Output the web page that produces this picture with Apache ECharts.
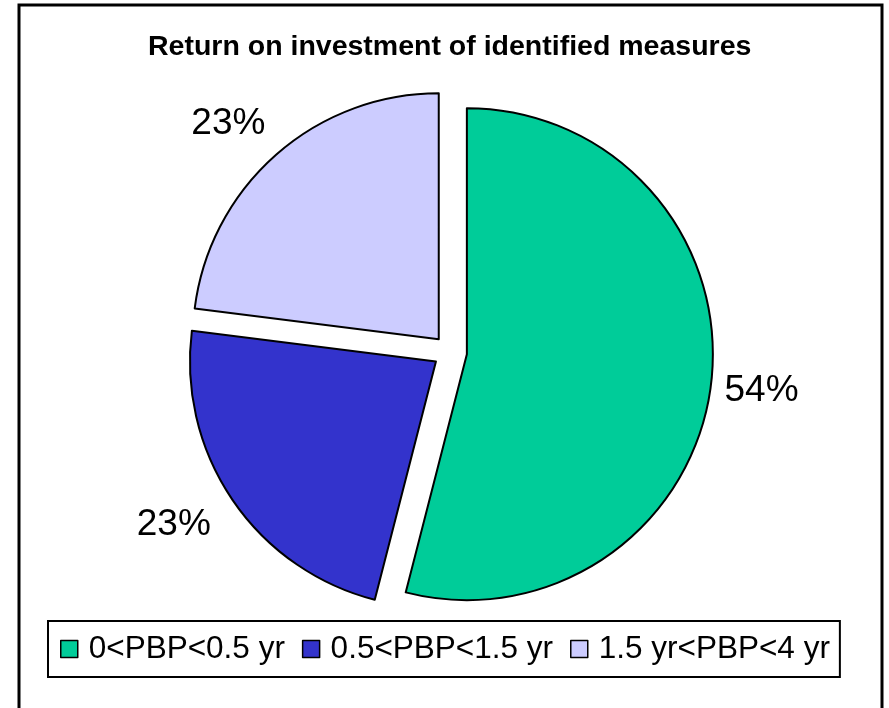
<!DOCTYPE html>
<html>
<head>
<meta charset="utf-8">
<script src="https://cdn.jsdelivr.net/npm/echarts@6/dist/echarts.min.js"></script>
<style type="text/css">
html,body{margin:0;padding:0;background:#fff;}
#roi{width:889px;height:708px;}
</style>
</head>
<body>
<div id="roi"></div>
<script type="text/javascript">
// payback period classes and share of measures (%)
var categories = ['0<PBP<0.5 yr', '0.5<PBP<1.5 yr', '1.5 yr<PBP<4 yr'];
var shares = [54, 23, 23];
var colors = ['#00CC99', '#3333CC', '#CCCCFF'];

// small nudges so the % labels sit where Excel put them
var labelShift = [[-8, -1], [-9, -5], [-7, 10]];

var roi = echarts.init(document.getElementById('roi'));
var roiOption = {
    backgroundColor: '#fff',
    animation: false,
    title: {
        text: 'Return on investment of identified measures',
        left: 148,
        top: 33,
        padding: 0,
        textStyle: {
            fontFamily: 'Liberation Sans, Arial',
            fontSize: 28.5,
            fontWeight: 'bold',
            color: '#000'
        }
    },
    legend: {
        left: 48,
        top: 621,
        orient: 'horizontal',
        icon: 'rect',
        itemWidth: 17,
        itemHeight: 17,
        itemGap: 17,
        padding: [12, 10, 12, 12],
        borderColor: '#000',
        borderWidth: 2,
        selectedMode: false,
        itemStyle: {borderColor: '#000', borderWidth: 1.5},
        textStyle: {
            fontFamily: 'Liberation Sans, Arial',
            fontSize: 31.5,
            color: '#000',
            padding: [0, 0, 0, 6]
        },
        data: categories
    },
    graphic: [{
        type: 'rect',
        shape: {x: 19, y: 5, width: 863, height: 710},
        style: {fill: 'none', stroke: '#000', lineWidth: 3},
        silent: true
    }],
    series: [{
        type: 'pie',
        center: [450, 352],
        radius: 246,
        startAngle: 90,
        clockwise: true,
        selectedMode: 'multiple',
        selectedOffset: 17,
        avoidLabelOverlap: false,
        percentPrecision: 0,
        emphasis: {disabled: true},
        itemStyle: {borderColor: '#000', borderWidth: 2},
        label: {
            show: true,
            position: 'outside',
            formatter: '{d}%',
            fontFamily: 'Liberation Sans, Arial',
            fontSize: 37,
            color: '#000'
        },
        labelLine: {show: false, length: 54, length2: 0},
        labelLayout: function (params) {
            return {
                align: 'center',
                dx: labelShift[params.dataIndex][0],
                dy: labelShift[params.dataIndex][1]
            };
        },
        data: categories.map(function (name, i) {
            return {name: name, value: shares[i], selected: true, itemStyle: {color: colors[i]}};
        })
    }]
};
roi.setOption(roiOption);
window.onresize = roi.resize;
</script>
</body>
</html>
